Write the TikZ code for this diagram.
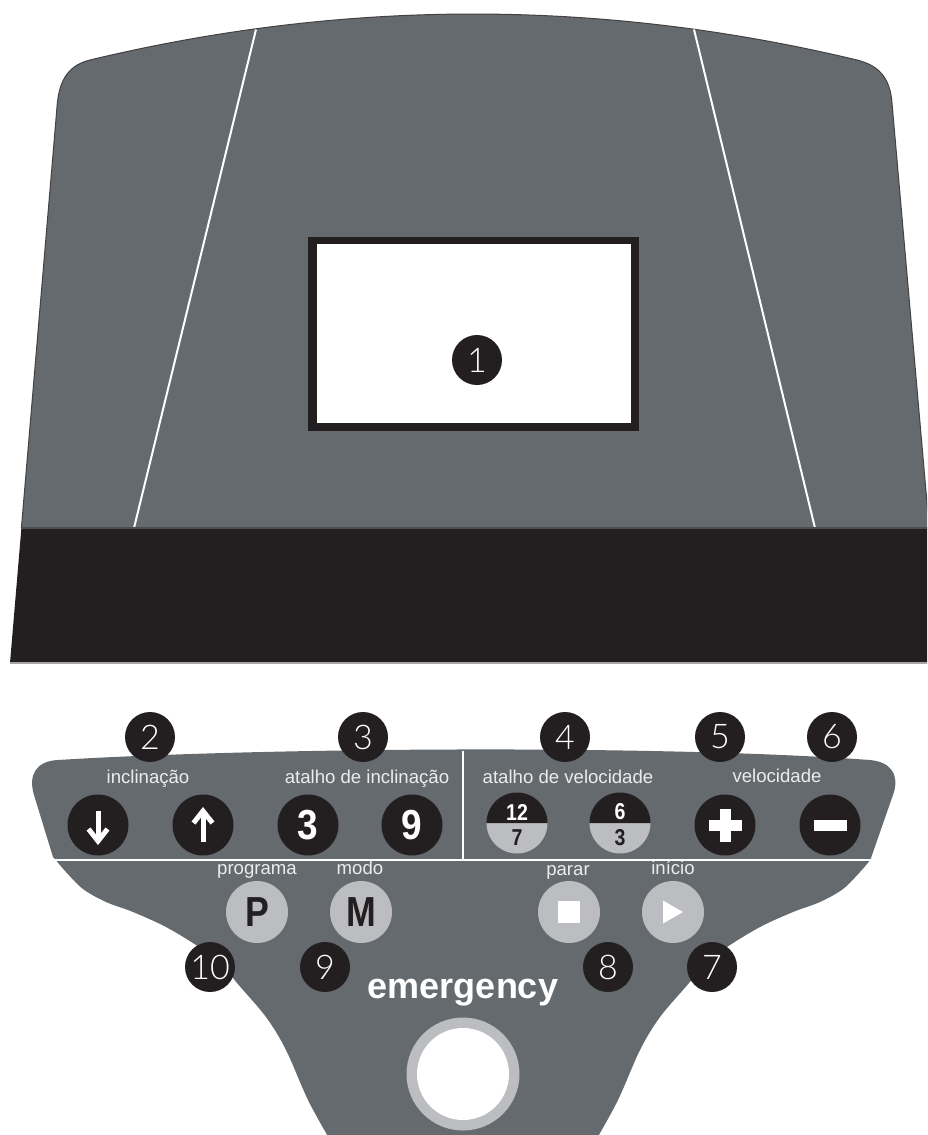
\documentclass[tikz,border=0pt]{standalone}
\usepackage{fontspec}
\setmainfont{Liberation Sans}
\newfontfamily\badgefont{Lato Light}
\usetikzlibrary{calc}
\definecolor{panel}{RGB}{101,106,110}
\definecolor{blk}{RGB}{35,31,32}
\definecolor{lgray}{RGB}{188,189,192}
\definecolor{labelc}{RGB}{236,236,236}
\tikzset{
  badge/.style={circle, fill=blk, minimum size=50pt, inner sep=0pt, text=white,
    font=\badgefont\fontsize{34}{34}\selectfont},
  darkbtn/.style={circle, fill=blk, minimum size=61pt, inner sep=0pt, text=white,
    font=\bfseries\fontsize{42}{42}\selectfont},
  lightbtn/.style={circle, fill=lgray, minimum size=62pt, inner sep=0pt, text=blk,
    font=\bfseries\fontsize{42}{42}\selectfont},
  lbl/.style={text=labelc, inner sep=0pt, anchor=base, font=\fontsize{18.6}{18.6}\selectfont},
  arrowline/.style={white, line width=5pt},
  whiteline/.style={white, line width=2pt},
  splitnum/.style={inner sep=0pt, font=\bfseries\fontsize{23}{23}\selectfont}
}
\begin{document}
\begin{tikzpicture}[x=1pt,y=-1pt]
\useasboundingbox (0,0) rectangle (927,1135);
\clip (0,0) rectangle (927,1135);

% ---------- upper console ----------
\fill[panel] (21.4,528) -- (57,107) .. controls (59,78) and (70,65) .. (90,60)
  .. controls (345,-1.3) and (601,-1.3) .. (857,60)
  .. controls (877,65) and (890,76) .. (892,103) -- (929.2,528) -- cycle;
\draw[blk!85, line width=1pt] (21.4,528) -- (57,107) .. controls (59,78) and (70,65) .. (90,60)
  .. controls (345,-1.3) and (601,-1.3) .. (857,60)
  .. controls (877,65) and (890,76) .. (892,103) -- (929.2,528);
\draw[whiteline] (256,29.5) -- (134,528);
\draw[whiteline] (694,29.5) -- (815,528);
\fill[blk] (21.4,528) -- (929.2,528) -- (941,663) -- (10,663) -- cycle;
\draw[black!70, line width=1.2pt] (21.4,528) -- (929.2,528);
\draw[black!35, line width=1.2pt] (10,663) -- (941,663);

% screen
\fill[blk] (308,237) rectangle (639,431);
\fill[white] (317,244) rectangle (631,423);
\node[badge] (b1) at (477,360) {1};

% ---------- lower keypad ----------
\fill[panel] (53,857) -- (34,795) .. controls (28,775) and (36,761) .. (58,760)
  .. controls (250,748) and (650,744) .. (870,760)
  .. controls (890,762) and (899,773) .. (894,792)
  -- (871,858)
  -- plot[smooth, tension=0.55] coordinates {(871,859) (860,872) (843,889) (820,902) (793,912)
     (760,927) (727,947) (703,965) (689,983) (660,1017) (640,1050) (618,1100) (596,1140)}
  -- (330,1140)
  -- plot[smooth, tension=0.55] coordinates {(330,1140) (308,1100) (286,1050) (266,1017) (237,983)
     (223,965) (199,947) (166,927) (133,912) (106,902) (83,889) (66,872) (55,859)}
  -- cycle;
\draw[whiteline] (55,860) -- (872,860);
\draw[white, line width=1.6pt] (463,751) -- (463,859);

% badges top row
\node[badge] (b2) at (150,737) {2};
\node[badge] (b3) at (363,737) {3};
\node[badge] (b4) at (565,737) {4};
\node[badge] (b5) at (720,737) {5};
\node[badge] (b6) at (832,737) {6};

% labels top row
\node[lbl] (l1) at (148,783) {inclinação};
\node[lbl] (l2) at (367,783) {atalho de inclinação};
\node[lbl] (l3) at (568,783) {atalho de velocidade};
\node[lbl] (l4) at (777,782) {velocidade};

% incline buttons
\node[darkbtn] (kdown) at (98,825) {};
\draw[arrowline] ($(kdown)+(0,-14)$) -- ($(kdown)+(0,14)$);
\draw[arrowline, miter limit=10] ($(kdown)+(-9.5,4)$) -- ($(kdown)+(0,16)$) -- ($(kdown)+(9.5,4)$);
\node[darkbtn] (kup) at (203,825) {};
\draw[arrowline] ($(kup)+(0,17)$) -- ($(kup)+(0,-12)$);
\draw[arrowline, miter limit=10] ($(kup)+(-9.5,-2)$) -- ($(kup)+(0,-14)$) -- ($(kup)+(9.5,-2)$);
\node[darkbtn] (k3) at (308,825) {\scalebox{0.88}[1]{3}};
\node[darkbtn] (k9) at (412,825) {\scalebox{0.88}[1]{9}};

% speed shortcut split buttons
\node[circle, minimum size=61pt, inner sep=0pt] (k12) at (517,823) {};
\fill[lgray] ($(k12)+(-30.5,0)$) arc[start angle=180, end angle=0, radius=30.5] -- cycle;
\fill[blk] ($(k12)+(-30.5,0)$) arc[start angle=180, end angle=360, radius=30.5] -- cycle;
\node[splitnum, text=white] (n12) at ($(k12)+(0,-11)$) {\scalebox{0.85}[1]{12}};
\node[splitnum, text=blk] (n7) at ($(k12)+(0,15)$) {\scalebox{0.85}[1]{7}};
\node[circle, minimum size=61pt, inner sep=0pt] (k6) at (620,823) {};
\fill[lgray] ($(k6)+(-30.5,0)$) arc[start angle=180, end angle=0, radius=30.5] -- cycle;
\fill[blk] ($(k6)+(-30.5,0)$) arc[start angle=180, end angle=360, radius=30.5] -- cycle;
\node[splitnum, text=white] (n6) at ($(k6)+(0,-11)$) {\scalebox{0.85}[1]{6}};
\node[splitnum, text=blk] (n3) at ($(k6)+(0,15)$) {\scalebox{0.85}[1]{3}};

% speed buttons
\node[darkbtn] (kplus) at (725,825) {};
\fill[white] ($(kplus)+(-16.5,-5.5)$) rectangle ($(kplus)+(16.5,5.5)$);
\fill[white] ($(kplus)+(-5.5,-16.5)$) rectangle ($(kplus)+(5.5,16.5)$);
\node[darkbtn] (kminus) at (830,825) {};
\fill[white] ($(kminus)+(-16.5,-5.5)$) rectangle ($(kminus)+(16.5,5.5)$);

% lower labels
\node[lbl] (lp) at (257,874) {programa};
\node[lbl] (lm) at (360,874) {modo};
\node[lbl] (ls) at (568,875) {parar};
\node[lbl] (li) at (673,874) {início};

% lower buttons
\node[lightbtn] (kP) at (257,912) {\scalebox{0.85}[1]{P}};
\node[lightbtn] (kM) at (361,912) {\scalebox{0.85}[1]{M}};
\node[lightbtn] (kstop) at (569,912) {};
\fill[white] ($(kstop)+(-11,-11)$) rectangle ($(kstop)+(11,11)$);
\node[lightbtn] (kplay) at (673,912) {};
\fill[white] ($(kplay)+(-10,-11.5)$) -- ($(kplay)+(10,0)$) -- ($(kplay)+(-10,11.5)$) -- cycle;

% bottom badges
\node[badge] (b10) at (210,967) {10};
\node[badge] (b9) at (325,967) {9};
\node[badge] (b8) at (608,967) {8};
\node[badge] (b7) at (712,967) {7};

% emergency
\node[text=white, inner sep=0pt, anchor=base, font=\bfseries\fontsize{36}{36}\selectfont] (em) at (463,998) {emergency};
\node[circle, fill=lgray, minimum size=113pt, inner sep=0pt] (estop) at (463,1074) {};
\node[circle, fill=white, minimum size=92pt, inner sep=0pt] (estopin) at (463,1074) {};
\end{tikzpicture}
\end{document}
